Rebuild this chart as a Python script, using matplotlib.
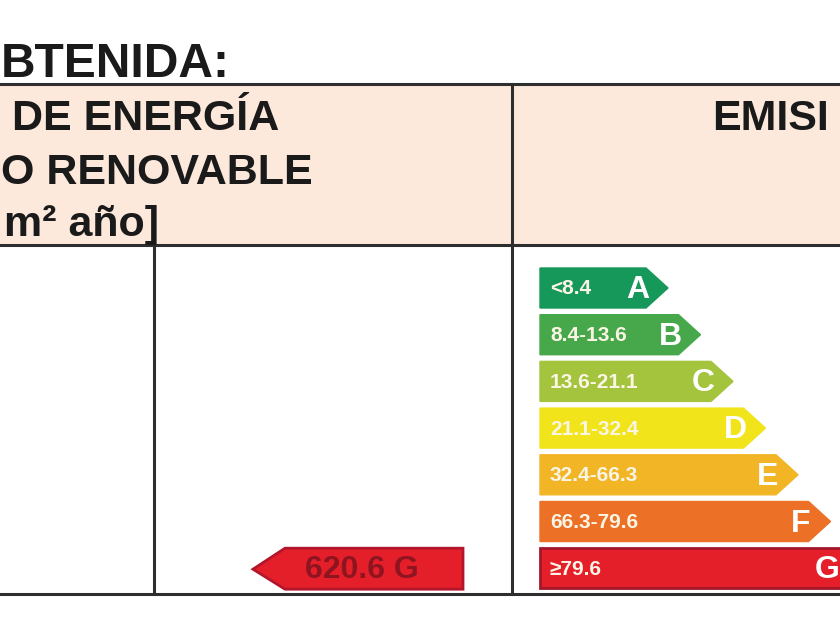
import matplotlib.pyplot as plt
from matplotlib.patches import Polygon, Rectangle

# emission scale (kgCO2/m2 year)
letters = ["A", "B", "C", "D", "E", "F", "G"]
ranges = ["<8.4", "8.4-13.6", "13.6-21.1", "21.1-32.4", "32.4-66.3", "66.3-79.6", "\u226579.6"]
colors = ["#16985a", "#47a84b", "#a3c43c", "#f1e41a", "#f2b526", "#ec7127", "#e41f2a"]

# obtained rating (consumption column)
value_text = "620.6 G"
value_letter = "G"

# visible parts of the header texts (the picture is cropped)
title = "BTENIDA:"
left_header = ["DE ENERG\u00cdA", "O RENOVABLE", "m\u00b2 a\u00f1o]"]
right_header = "EMISI"

fig = plt.figure(figsize=(8.4, 6.3), dpi=100)
ax = fig.add_axes([0, 0, 1, 1], frameon=False)
ax.set_xlim(0, 840)
ax.set_ylim(630, 0)
ax.set_xticks([])
ax.set_yticks([])

bold = dict(family=["Liberation Sans", "DejaVu Sans"], weight="bold")
narrow = dict(family=["Liberation Sans Narrow", "Liberation Sans", "DejaVu Sans"], weight="bold")
tc = "#1a1a1a"

# title
ax.text(1, 77, title, fontsize=34.5, ha="left", va="baseline", color=tc, **bold)

# header band
ax.add_patch(Rectangle((0, 84), 840, 161, facecolor="#fde9dc", edgecolor="none"))
ax.text(279, 130, left_header[0], fontsize=31, ha="right", va="baseline", color=tc, **bold)
ax.text(313, 184, left_header[1], fontsize=31, ha="right", va="baseline", color=tc, **bold)
ax.text(159, 236, left_header[2], fontsize=31, ha="right", va="baseline", color=tc, **bold)
ax.text(712, 130, right_header, fontsize=31, ha="left", va="baseline", color=tc, **bold)

# table lines
lc = "#2e2e2e"
ax.plot([0, 840], [84, 84], color=lc, lw=2.2)
ax.plot([0, 840], [245, 245], color=lc, lw=2.2)
ax.plot([0, 840], [594, 594], color=lc, lw=2.2)
ax.plot([512, 512], [84, 594], color=lc, lw=2.2)
ax.plot([154, 154], [245, 594], color=lc, lw=2.2)

# emission arrows
x0, top, h, gap = 540, 268, 40, 46.7
for i, (let, rng, c) in enumerate(zip(letters, ranges, colors)):
    y = top + i * gap
    tip = 668 + i * 32.5
    if let == "G":
        ax.add_patch(Rectangle((x0, y), 330, h, facecolor=c, edgecolor="#a3172a", lw=2))
        lx = 827
    else:
        pts = [(x0, y), (tip - 22, y), (tip, y + h / 2), (tip - 22, y + h), (x0, y + h)]
        ax.add_patch(Polygon(pts, closed=True, facecolor=c, edgecolor=c, lw=1))
        lx = tip - 30
    ax.text(x0 + 10, y + h / 2 + 1, rng, fontsize=15, ha="left", va="center", color="#fbf5e6", **narrow)
    ax.text(lx, y + h / 2 + 2, let, fontsize=23, ha="center", va="center", color="white", **bold)

# obtained value indicator
k = letters.index(value_letter)
y = top + k * gap
pts = [(253, y + h / 2 + 1), (285, y), (463, y), (463, y + h + 1), (285, y + h + 1)]
ax.add_patch(Polygon(pts, closed=True, facecolor=colors[k], edgecolor="#b3162a", lw=2))
ax.text(362, y + h / 2 + 2, value_text, fontsize=23, ha="center", va="center", color="#8e1420",
        **narrow)

fig.savefig("out.png", dpi=100)
